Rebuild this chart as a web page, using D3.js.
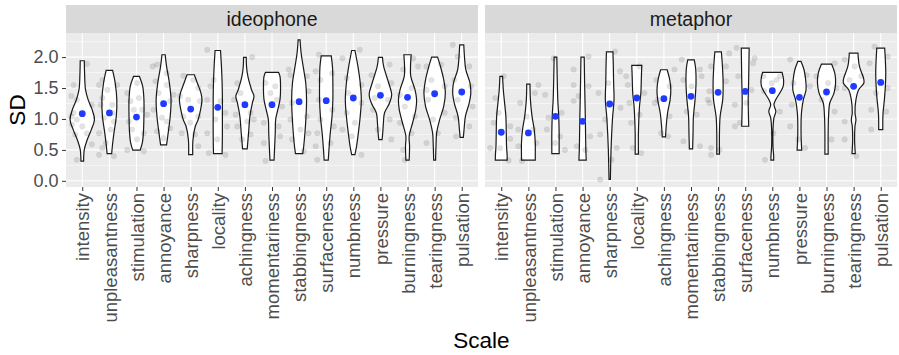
<!DOCTYPE html>
<html>
<head>
<meta charset="utf-8">
<script src="https://cdn.jsdelivr.net/npm/d3@7"></script>
<style>
  body { margin: 0; background: #fff; }
  text { font-family: "Liberation Sans", Arial, Helvetica, sans-serif; }
</style>
</head>
<body>
<div id="app"></div>
<script>
// values
var scales = ["intensity","unpleasantness","stimulation","annoyance","sharpness","locality","achingness",
  "momentariness","stabbingness","surfaceness","numbness","pressure","burningness","tearingness","pulsation"];
var facets = ["ideophone", "metaphor"];
var yTicks = [0, 0.5, 1, 1.5, 2];
var yMinor = [0.25, 0.75, 1.25, 1.75, 2.25];

var ideoMeans = [1.085,1.097,1.03,1.247,1.16,1.188,1.231,1.231,1.28,1.296,1.339,1.382,1.35,1.408,1.436];
var metaMeans = [0.785,0.774,1.043,0.962,1.242,1.339,1.328,1.366,1.43,1.446,1.457,1.35,1.436,1.527,1.591];

// violin outlines: [SD, width as share of category step]
var ideoViolins = [
  [[1.941,.15],[1.742,.17],[1.473,.24],[1.312,.43],[1.15,.73],[0.989,.9],[0.828,.67],[0.667,.37],[0.505,.15],[0.317,.1]],
  [[1.785,.24],[1.581,.43],[1.312,.55],[1.043,.51],[0.774,.34],[0.559,.22],[0.441,.17]],
  [[1.688,.22],[1.527,.46],[1.312,.55],[1.043,.55],[0.774,.51],[0.613,.43],[0.495,.27]],
  [[2.038,.12],[1.849,.22],[1.581,.43],[1.312,.55],[1.043,.49],[0.774,.34],[0.581,.22]],
  [[1.715,.27],[1.581,.49],[1.419,.76],[1.312,.83],[1.15,.73],[0.989,.55],[0.882,.34],[0.667,.17],[0.425,.15]],
  [[2.107,.2],[1.849,.27],[1.581,.32],[1.312,.34],[1.043,.34],[0.774,.34],[0.441,.32]],
  [[1.995,.1],[1.849,.12],[1.688,.22],[1.473,.49],[1.366,.67],[1.258,.55],[1.043,.37],[0.774,.27],[0.516,.17]],
  [[1.753,.49],[1.688,.59],[1.527,.63],[1.312,.59],[1.15,.43],[0.989,.27],[0.774,.24],[0.333,.15]],
  [[2.28,.07],[2.064,.15],[1.849,.3],[1.581,.49],[1.312,.55],[1.043,.51],[0.774,.43],[0.559,.34],[0.441,.27]],
  [[2.021,.37],[1.849,.46],[1.581,.49],[1.312,.49],[1.043,.43],[0.774,.3],[0.559,.22],[0.333,.15]],
  [[2.107,.12],[1.849,.34],[1.581,.51],[1.312,.59],[1.043,.51],[0.774,.37],[0.559,.24],[0.425,.12]],
  [[1.995,.15],[1.849,.24],[1.581,.61],[1.392,.83],[1.258,.67],[1.097,.3],[0.935,.22],[0.774,.17],[0.667,.12]],
  [[2.038,.27],[1.849,.22],[1.688,.24],[1.473,.55],[1.312,.67],[1.15,.61],[0.935,.37],[0.72,.12],[0.559,.15],[0.333,.12]],
  [[2.0,.22],[1.849,.43],[1.634,.67],[1.419,.79],[1.204,.67],[0.989,.37],[0.774,.15],[0.559,.1],[0.333,.07]],
  [[2.199,.15],[2.011,.2],[1.796,.3],[1.581,.61],[1.419,.67],[1.258,.55],[1.043,.27],[0.828,.17],[0.704,.12]]
];
var metaViolins = [
  [[1.688,.1],[1.473,.15],[1.312,.22],[1.043,.34],[0.774,.37],[0.559,.39],[0.425,.43],[0.333,.44]],
  [[1.564,.12],[1.312,.15],[1.043,.27],[0.828,.43],[0.613,.51],[0.425,.51],[0.333,.51]],
  [[2.0,.1],[1.742,.12],[1.312,.17],[1.043,.24],[0.774,.27],[0.559,.27],[0.441,.27]],
  [[2.0,.12],[1.581,.15],[1.043,.2],[0.774,.22],[0.505,.24],[0.333,.27]],
  [[2.086,.24],[1.849,.27],[1.581,.29],[1.312,.32],[1.043,.22],[0.774,.15],[0.505,.1],[0.237,.07],[0.021,.05]],
  [[1.866,.37],[1.688,.34],[1.419,.3],[1.204,.2],[0.989,.15],[0.774,.12],[0.43,.12]],
  [[1.796,.24],[1.634,.43],[1.473,.51],[1.312,.46],[1.097,.27],[0.882,.17],[0.71,.12]],
  [[1.957,.24],[1.823,.34],[1.581,.37],[1.312,.3],[1.043,.18],[0.774,.15],[0.516,.12]],
  [[2.086,.24],[1.849,.32],[1.581,.37],[1.312,.34],[1.043,.15],[0.774,.1],[0.43,.1]],
  [[2.145,.29],[1.849,.27],[1.581,.25],[1.312,.22],[1.043,.24],[0.882,.26]],
  [[1.753,.72],[1.634,.83],[1.527,.8],[1.419,.55],[1.312,.25],[1.231,.12],[1.124,.26],[1.016,.12],[0.882,.06],[0.559,.05],[0.398,.1],[0.333,.1]],
  [[1.93,.12],[1.796,.34],[1.634,.46],[1.473,.49],[1.312,.29],[1.097,.15],[0.774,.12],[0.495,.17]],
  [[1.887,.37],[1.742,.61],[1.581,.67],[1.419,.55],[1.258,.24],[1.043,.15],[0.774,.12],[0.43,.12]],
  [[2.064,.32],[1.849,.43],[1.661,.73],[1.581,.76],[1.473,.37],[1.312,.17],[1.097,.1],[0.989,.17],[0.882,.1],[0.667,.07],[0.441,.12]],
  [[2.145,.29],[1.957,.34],[1.742,.37],[1.527,.34],[1.312,.27],[1.097,.17],[0.828,.15]]
];

// jittered raw points: [x offset as share of step, SD]
var ideoPoints = [
  [[.17,1.89],[-.32,1.55],[-.4,1.37],[-.2,1.31],[.35,1.23],[-.32,1.1],[-.2,.99],[-.38,.91],[0,.88],[.17,.77],[-.26,.75],[.35,.59],[-.2,.34],[-.4,1.04]],
  [[-.38,1.55],[-.26,1.63],[.29,1.55],[-.07,1.47],[-.26,1.34],[.11,1.23],[-.32,1.23],[.11,1.1],[-.2,1.02],[.17,.96],[.05,.83],[-.38,.77],[-.13,.61],[-.26,.53],[-.38,.42],[.17,.4]],
  [[-.34,1.42],[-.22,1.29],[.09,1.34],[.21,1.15],[.39,1.07],[-.1,1.15],[-.28,.96],[-.16,.83],[.27,.77],[.02,.67],[-.34,.5],[.27,.48],[.02,1.58]],
  [[-.4,1.85],[-.24,1.88],[.12,1.74],[-.3,1.61],[.12,1.55],[-.18,1.42],[.37,1.39],[.24,1.29],[-.37,1.15],[-.06,1.02],[.12,.96],[-.24,.8],[.24,.85],[0,.69]],
  [[-.27,1.7],[.1,1.63],[.28,1.5],[-.39,1.37],[-.09,1.31],[.34,1.29],[-.27,1.04],[.28,1.04],[-.02,.94],[.16,.75],[.28,.56],[-.33,.77]],
  [[-.39,2.12],[-.15,1.63],[-.27,1.53],[-.39,1.31],[.28,1.1],[-.09,.99],[.34,.88],[-.39,.77],[-.02,.67],[-.33,.45],[.28,.42],[.1,1.29]],
  [[.27,2.0],[-.28,1.58],[-.16,1.42],[-.34,1.07],[.21,1.1],[.09,.96],[-.28,.88],[.21,.75],[-.1,.67],[.33,.99],[-.4,1.31]],
  [[-.24,1.58],[.12,1.53],[.37,1.2],[-.3,.94],[.24,.88],[.3,.72],[-.3,.61],[-.24,.32],[-.06,1.42],[.18,1.31]],
  [[-.38,1.8],[-.32,1.71],[.29,1.69],[-.26,1.26],[.35,1.45],[-.32,.99],[-.26,.67],[.05,.83],[.35,.77],[.17,.48],[.29,1.04]],
  [[-.27,2.04],[-.39,1.77],[-.21,1.63],[.22,1.74],[-.27,1.31],[.22,1.15],[-.21,.99],[.28,.88],[-.33,.77],[-.39,.56],[.16,.61],[-.33,.34]],
  [[-.4,1.98],[.24,2.12],[-.24,1.66],[.3,1.55],[-.18,1.42],[.3,1.26],[-.24,1.1],[.06,.94],[-.4,.83],[.3,.42],[-.06,.72]],
  [[-.33,1.71],[.34,1.88],[-.09,1.53],[.4,1.58],[-.21,1.34],[.28,1.31],[-.27,1.15],[.34,.99],[.4,.67],[-.09,.83]],
  [[.21,1.98],[.39,1.85],[-.16,1.8],[.15,1.5],[-.28,1.39],[-.1,1.2],[.27,1.04],[-.28,.94],[-.16,.5],[-.1,.34],[.15,.77]],
  [[-.3,1.85],[.24,1.88],[-.12,1.63],[-.3,1.47],[.37,1.53],[-.24,1.31],[.37,1.1],[-.06,.99],[.12,.77],[-.3,.61]],
  [[-.33,2.2],[-.15,2.01],[.28,1.85],[-.27,1.63],[.34,1.53],[-.15,1.31],[.4,1.2],[-.21,1.02],[.28,.88],[-.21,.72]]
];
var metaPoints = [
  [[.09,1.69],[-.22,1.34],[-.1,1.1],[.33,.88],[-.41,.53],[-.04,.53],[.27,.33],[.33,.68],[-.28,.94]],
  [[-.3,1.26],[.37,1.55],[.24,1.42],[-.37,.83],[.18,.83],[-.24,.32],[.3,.61],[-.37,.56],[-.06,1.04]],
  [[-.38,1.39],[-.07,1.98],[-.26,1.02],[.23,1.1],[.35,.5],[-.01,.61],[.17,.72],[-.32,.83]],
  [[-.33,1.8],[-.33,1.55],[.22,2.01],[.22,1.53],[-.15,1.37],[-.33,1.29],[.28,.72],[-.21,.56],[.1,.5]],
  [[.2,2.09],[.38,1.77],[-.05,1.58],[-.41,1.42],[-.17,.99],[-.35,.75],[.07,.34],[.26,.53],[-.35,.02],[.4,1.18]],
  [[-.39,1.69],[-.33,1.55],[.1,1.85],[.28,1.42],[-.27,1.26],[-.21,.94],[-.15,.53],[.16,.45],[.1,1.07]],
  [[-.28,1.63],[-.34,1.26],[.39,1.8],[.21,1.53],[.21,1.04],[.15,.72],[-.22,1.31],[-.1,.77]],
  [[-.34,1.96],[-.28,1.63],[.33,1.8],[.39,1.69],[-.16,1.12],[.21,1.07],[-.28,.64],[.33,.56],[.02,1.53]],
  [[-.26,1.85],[-.32,1.45],[.41,2.06],[.29,1.85],[-.32,1.26],[.29,1.61],[-.26,.53],[-.26,.42],[.05,.5],[-.38,1.31]],
  [[-.32,2.15],[-.26,1.69],[.29,1.9],[-.38,1.23],[.23,1.47],[.05,1.26],[-.38,.88],[-.2,.94],[.35,1.98]],
  [[-.33,1.69],[.28,1.69],[-.02,1.58],[.16,1.63],[.28,1.12],[-.27,.34],[.04,.77],[-.3,1.45]],
  [[-.34,1.96],[-.34,.88],[.27,1.71],[.39,1.53],[-.22,1.58],[-.04,.67],[.21,.53],[-.28,1.23]],
  [[-.37,1.69],[.06,1.58],[.3,1.9],[.37,1.5],[.18,.67],[-.18,1.31],[.3,1.12]],
  [[-.33,1.96],[.04,1.85],[.28,1.69],[-.33,1.5],[-.33,.96],[-.33,.67],[.1,.4],[-.15,1.63]],
  [[-.23,2.17],[.26,2.01],[-.17,1.42],[.26,1.5],[-.35,1.15],[.2,1.12],[-.35,.83],[-.41,1.9]]
];

var width = 899, height = 355;
var panelTop = 33, panelBottom = 187;
var panels = [[66, 478], [485, 897]];
var facetData = [
  {name: facets[0], means: ideoMeans, violins: ideoViolins, points: ideoPoints},
  {name: facets[1], means: metaMeans, violins: metaViolins, points: metaPoints}
];

var svg = d3.select("#app").append("svg").attr("width", width).attr("height", height);
svg.append("rect").attr("width", width).attr("height", height).attr("fill", "#fff");

var y = d3.scaleLinear().domain([-0.1, 2.39]).range([panelBottom, panelTop]);

facetData.forEach(function(f, i) {
  var x = d3.scalePoint().domain(scales).range(panels[i]).padding(0.6);
  var step = x.step();
  var g = svg.append("g");

  // panel + strip
  g.append("rect").attr("x", panels[i][0]).attr("y", panelTop)
    .attr("width", panels[i][1] - panels[i][0]).attr("height", panelBottom - panelTop).attr("fill", "#EBEBEB");
  g.append("rect").attr("x", panels[i][0]).attr("y", 5)
    .attr("width", panels[i][1] - panels[i][0]).attr("height", panelTop - 5).attr("fill", "#D9D9D9");
  g.append("text").attr("x", (panels[i][0] + panels[i][1]) / 2).attr("y", 25.5)
    .attr("text-anchor", "middle").attr("font-size", 19.5).attr("fill", "#1A1A1A").text(f.name);

  // grid
  g.selectAll(".minor").data(yMinor).enter().append("line")
    .attr("x1", panels[i][0]).attr("x2", panels[i][1])
    .attr("y1", function(d) { return y(d); }).attr("y2", function(d) { return y(d); })
    .attr("stroke", "#fff").attr("stroke-width", 0.55);
  g.selectAll(".major").data(yTicks).enter().append("line")
    .attr("x1", panels[i][0]).attr("x2", panels[i][1])
    .attr("y1", function(d) { return y(d); }).attr("y2", function(d) { return y(d); })
    .attr("stroke", "#fff").attr("stroke-width", 1.1);
  g.selectAll(".vgrid").data(scales).enter().append("line")
    .attr("x1", function(d) { return x(d); }).attr("x2", function(d) { return x(d); })
    .attr("y1", panelTop).attr("y2", panelBottom)
    .attr("stroke", "#fff").attr("stroke-width", 1.1);

  // violins
  scales.forEach(function(s, k) {
    var cx = x(s);
    var area = d3.area()
      .curve(d3.curveCatmullRom.alpha(0.5))
      .y(function(d) { return y(d[0]); })
      .x0(function(d) { return cx - d[1] * step / 2; })
      .x1(function(d) { return cx + d[1] * step / 2; });
    g.append("path").datum(f.violins[k]).attr("d", area)
      .attr("fill", "#fff").attr("stroke", "#1a1a1a").attr("stroke-width", 1.2);
  });

  // jitter points
  scales.forEach(function(s, k) {
    g.selectAll(null).data(f.points[k]).enter().append("circle")
      .attr("cx", function(d) { return x(s) + d[0] * step; })
      .attr("cy", function(d) { return y(d[1]); })
      .attr("r", 2.8).attr("fill", "#000").attr("fill-opacity", 0.11)
      .attr("stroke", "#000").attr("stroke-opacity", 0.06).attr("stroke-width", 0.6);
  });

  // means
  g.selectAll(".mean").data(f.means).enter().append("circle")
    .attr("cx", function(d, k) { return x(scales[k]); })
    .attr("cy", function(d) { return y(d); })
    .attr("r", 3.4).attr("fill", "#1F3BFF");

  // x axis
  var xa = g.append("g").attr("transform", "translate(0," + panelBottom + ")")
    .call(d3.axisBottom(x).tickSize(4).tickSizeOuter(0));
  xa.select(".domain").remove();
  xa.selectAll("line").attr("stroke", "#333");
  xa.selectAll("text")
    .attr("transform", "rotate(-90)").attr("x", -6).attr("y", 0).attr("dy", "0.36em")
    .style("text-anchor", "end").attr("font-size", 18.5).attr("fill", "#4D4D4D")
    .attr("font-family", "Liberation Sans, Arial, sans-serif");
});

// y axis
var ya = svg.append("g").attr("transform", "translate(" + panels[0][0] + ",0)")
  .call(d3.axisLeft(y).tickValues(yTicks).tickFormat(d3.format(".1f")).tickSize(4).tickPadding(3.5));
ya.select(".domain").remove();
ya.selectAll("line").attr("stroke", "#333");
ya.selectAll("text").attr("font-size", 18).attr("fill", "#4D4D4D")
  .attr("font-family", "Liberation Sans, Arial, sans-serif");

// titles
svg.append("text").attr("transform", "translate(24.5," + ((panelTop + panelBottom) / 2) + ") rotate(-90)")
  .attr("text-anchor", "middle").attr("font-size", 22.5).attr("fill", "#000").text("SD");
svg.append("text").attr("x", (panels[0][0] + panels[1][1]) / 2).attr("y", 348)
  .attr("text-anchor", "middle").attr("font-size", 22.5).attr("fill", "#000").text("Scale");
</script>
</body>
</html>
